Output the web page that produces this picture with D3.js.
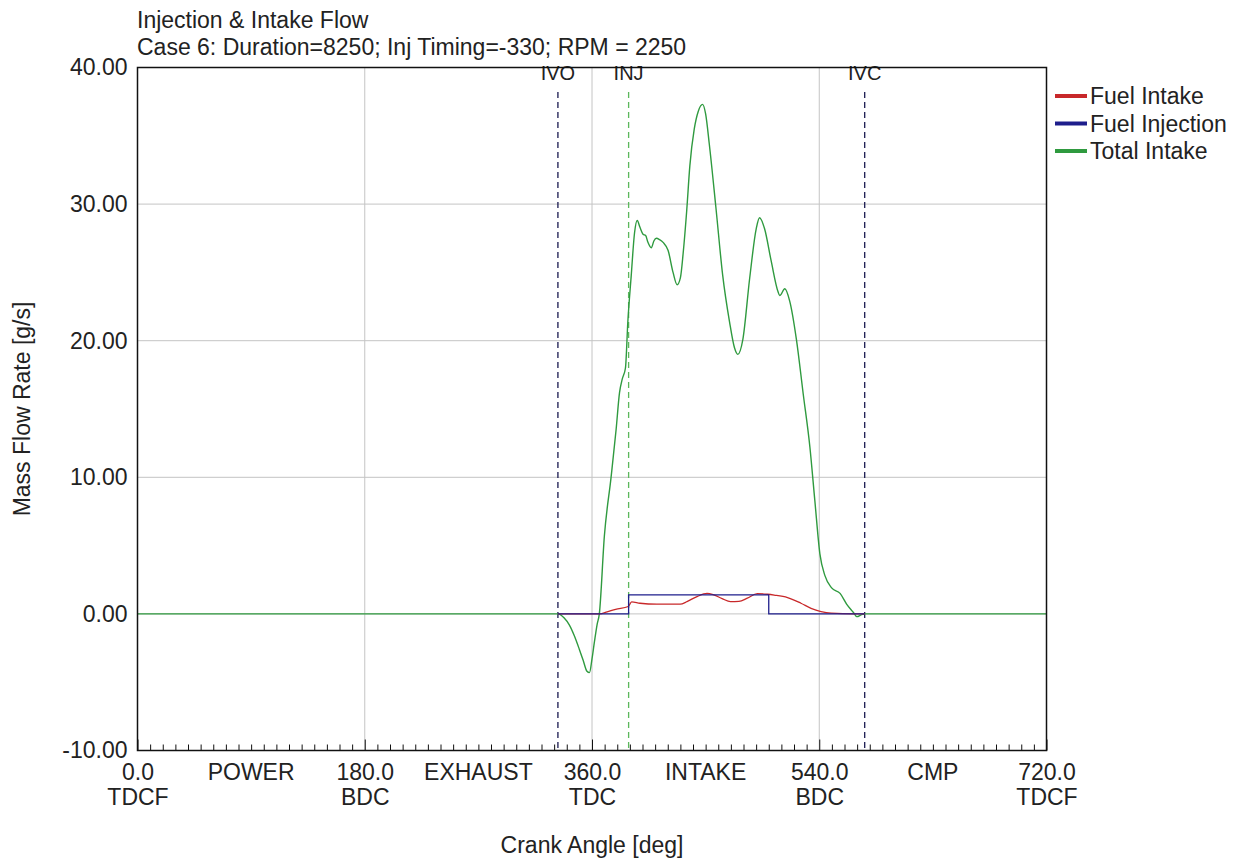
<!DOCTYPE html>
<html><head><meta charset="utf-8">
<script src="https://cdn.jsdelivr.net/npm/d3@7"></script>
<style>
body{margin:0;background:#fff;}
text{font-family:"Liberation Sans",Arial,sans-serif;fill:#222;}
</style></head><body>
<svg id="chart" width="1249" height="860"></svg>
<script>
// ---------- data ----------
const titleText = "Injection & Intake Flow";
const subtitleText = "Case 6: Duration=8250; Inj Timing=-330; RPM = 2250";
const xLabel = "Crank Angle [deg]";
const yLabel = "Mass Flow Rate [g/s]";
const yTicks = [-10, 0, 10, 20, 30, 40];
const xMajorTicks = [0, 180, 360, 540, 720];
const xTickNames = ["TDCF", "BDC", "TDC", "BDC", "TDCF"];
const phaseNames = ["POWER", "EXHAUST", "INTAKE", "CMP"];
const phaseAngles = [90, 270, 450, 630];
const eventNames = ["IVO", "INJ", "IVC"];
const eventAngles = [333, 389, 576];
const seriesNames = ["Fuel Intake", "Fuel Injection", "Total Intake"];

const totalAngle = [0, 333, 338, 342, 346, 350, 353, 356, 358, 360, 362, 364, 365.8, 369.8, 375.1, 379.1, 381.8, 384, 386.5, 388.4, 391.1, 393.7, 395.8, 398, 400.4, 402.5, 404.3, 407, 409, 411, 413.5, 416.3, 420.3, 424.2, 427.4, 430, 432.2, 435, 437.5, 441, 444.2, 447.6, 450, 452.9, 458.2, 463.5, 468.9, 472.8, 475.5, 479.5, 484.8, 490.1, 492.7, 496.7, 502, 507.3, 508.7, 512.7, 516.6, 521.9, 527.3, 532.6, 536.5, 540.5, 544.5, 549.8, 556.5, 561.8, 567.1, 569.7, 573.7, 576, 720];
const totalValue = [0, 0, -0.3, -0.8, -1.6, -2.6, -3.4, -4.2, -4.3, -3.3, -2.0, -0.8, 0, 5.7, 10.0, 13.5, 16.2, 17.2, 18.0, 21.4, 24.8, 27.9, 28.8, 28.3, 27.8, 27.7, 27.2, 26.8, 27.3, 27.5, 27.4, 27.2, 26.6, 25.0, 24.1, 24.6, 26.4, 29.5, 32.8, 35.5, 36.8, 37.3, 36.6, 34.4, 29.7, 24.8, 21.4, 19.5, 19.0, 20.1, 24.5, 28.2, 29.0, 28.2, 25.8, 23.6, 23.3, 23.8, 22.9, 20.1, 16.1, 12.2, 8.3, 4.4, 2.8, 1.9, 1.5, 0.7, 0.1, -0.2, -0.05, 0, 0];

const injAngle = [333, 389, 389, 500, 500, 576];
const injValue = [0, 0, 1.39, 1.39, 0, 0];

const fuelAngle = [333, 366, 372, 378.7, 388.7, 391.4, 398, 411.3, 429.9, 435.2, 443.2, 451.1, 456.4, 463.1, 469.7, 476.4, 483, 491, 499, 504.3, 514.9, 525.5, 533.5, 541.4, 549.4, 568, 576];
const fuelValue = [0, 0, 0.15, 0.34, 0.54, 0.88, 0.78, 0.71, 0.71, 0.9, 1.27, 1.5, 1.39, 1.12, 0.9, 0.92, 1.15, 1.48, 1.44, 1.38, 1.2, 0.78, 0.41, 0.17, 0.05, 0, 0];

// ---------- layout ----------
const colors = {red: "#c8282a", blue: "#1e1e8c", green: "#2f9a3f"};
const FS = 23;
const L = 137.5, R = 1046.5, T = 67.5, B = 750.5;
const svg = d3.select("#chart");
const x = d3.scaleLinear().domain([0, 720]).range([L, R]);
const y = d3.scaleLinear().domain([-10, 40]).range([B, T]);

// titles
svg.append("text").attr("x", 137).attr("y", 28).attr("font-size", FS).text(titleText);
svg.append("text").attr("x", 137).attr("y", 55).attr("font-size", FS).text(subtitleText);

// grid
const grid = svg.append("g");
grid.selectAll("line.h").data(yTicks.filter(d => d > -10 && d < 40)).enter().append("line")
  .attr("x1", L).attr("x2", R).attr("y1", d => y(d)).attr("y2", d => y(d))
  .attr("stroke", "#c4c4c4").attr("stroke-width", 1);
grid.selectAll("line.v").data(xMajorTicks.filter(d => d > 0 && d < 720)).enter().append("line")
  .attr("y1", T).attr("y2", B).attr("x1", d => x(d)).attr("x2", d => x(d))
  .attr("stroke", "#c4c4c4").attr("stroke-width", 1);

// event lines
const ev = svg.append("g");
eventNames.forEach((n, i) => {
  const c = n === "INJ" ? "#5cb85c" : "#1a1a50";
  ev.append("line").attr("x1", x(eventAngles[i])).attr("x2", x(eventAngles[i]))
    .attr("y1", 92).attr("y2", B).attr("stroke", c).attr("stroke-width", 1.3)
    .attr("stroke-dasharray", "6,4");
  ev.append("text").attr("x", x(eventAngles[i])).attr("y", 80).attr("text-anchor", "middle")
    .attr("font-size", 20).text(n);
});

// series
const zip = (a, b) => a.map((v, i) => [v, b[i]]);
svg.append("path").datum(zip(totalAngle, totalValue))
  .attr("d", d3.line().x(d => x(d[0])).y(d => y(d[1])).curve(d3.curveMonotoneX))
  .attr("fill", "none").attr("stroke", colors.green).attr("stroke-width", 1.4);
svg.append("path").datum(zip(fuelAngle, fuelValue))
  .attr("d", d3.line().x(d => x(d[0])).y(d => y(d[1])).curve(d3.curveMonotoneX))
  .attr("fill", "none").attr("stroke", colors.red).attr("stroke-width", 1.3);
svg.append("path").datum(zip(injAngle, injValue))
  .attr("d", d3.line().x(d => x(d[0])).y(d => y(d[1])))
  .attr("fill", "none").attr("stroke", colors.blue).attr("stroke-width", 1.3);

// frame
svg.append("rect").attr("x", L).attr("y", T).attr("width", R - L).attr("height", B - T)
  .attr("fill", "none").attr("stroke", "#111").attr("stroke-width", 1.5);

// x ticks (inside)
const minor = d3.range(0, 721, 10);
const xAxisMinor = d3.axisBottom(x).tickValues(minor.filter(d => d % 180 !== 0)).tickSize(-6).tickFormat("");
const gx = svg.append("g").attr("transform", `translate(0,${B})`).call(xAxisMinor);
const xAxisMajor = d3.axisBottom(x).tickValues(xMajorTicks).tickSize(-11).tickFormat(d3.format(".1f"));
const gx2 = svg.append("g").attr("transform", `translate(0,${B})`).call(xAxisMajor);
[gx, gx2].forEach(g => { g.select(".domain").remove(); g.selectAll("line").attr("stroke", "#111"); });
gx2.selectAll("text").attr("font-size", FS).attr("fill", "#222").attr("y", 13).attr("dy", "0.71em")
  .attr("font-family", "Liberation Sans, Arial, sans-serif");
gx2.selectAll(".tick").append("text").attr("font-size", FS).attr("fill", "#222")
  .attr("y", 38).attr("dy", "0.71em").attr("text-anchor", "middle")
  .attr("font-family", "Liberation Sans, Arial, sans-serif")
  .text((d, i) => xTickNames[i]);
svg.append("g").selectAll("text").data(phaseNames).enter().append("text")
  .attr("x", (d, i) => x(phaseAngles[i])).attr("y", 780).attr("text-anchor", "middle")
  .attr("font-size", FS).text(d => d);

// y axis labels
const fmt = d3.format(".2f");
const yAxis = d3.axisLeft(y).tickValues(yTicks).tickSize(0).tickPadding(10)
  .tickFormat(d => fmt(d).replace("\u2212", "-"));
const gy = svg.append("g").attr("transform", `translate(${L},0)`).call(yAxis);
gy.select(".domain").remove();
gy.selectAll("text").attr("font-size", FS).attr("fill", "#222").attr("font-family", "Liberation Sans, Arial, sans-serif");

// axis titles
svg.append("text").attr("x", (L + R) / 2).attr("y", 853).attr("text-anchor", "middle")
  .attr("font-size", FS).text(xLabel);
svg.append("text").attr("transform", `translate(30,${(T + B) / 2}) rotate(-90)`)
  .attr("text-anchor", "middle").attr("font-size", FS).text(yLabel);

// legend
const legColors = [colors.red, colors.blue, colors.green];
const leg = svg.append("g");
seriesNames.forEach((n, i) => {
  const yy = 96 + i * 27.5;
  leg.append("line").attr("x1", 1055).attr("x2", 1087).attr("y1", yy).attr("y2", yy)
    .attr("stroke", legColors[i]).attr("stroke-width", 4);
  leg.append("text").attr("x", 1090).attr("y", yy + 8).attr("font-size", FS).text(n);
});
</script></body></html>
